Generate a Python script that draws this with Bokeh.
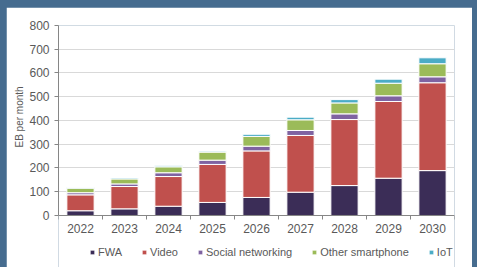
from bokeh.plotting import figure
from bokeh.layouts import column
from bokeh.models import ColumnDataSource, Range1d, FixedTicker, Legend, LegendItem, Title
from bokeh.embed import file_html
from bokeh.resources import INLINE

years = ["2022", "2023", "2024", "2025", "2026", "2027", "2028", "2029", "2030"]
fwa = [20, 28, 39, 55, 76, 98, 126, 157, 189]
video = [67, 94, 125, 160, 196, 239, 278, 323, 370]
social = [9, 11, 16, 18, 20, 21, 24, 24, 25]
other_smartphone = [19, 21, 25, 34, 41, 45, 46, 53, 55]
iot = [3, 4, 4, 4, 9, 11, 14, 17, 25]
series_names = ["FWA", "Video", "Social networking", "Other smartphone", "IoT"]
y_ticks = [0, 100, 200, 300, 400, 500, 600, 700, 800]
y_title = "EB per month"

colors = ["#3b2d57", "#c0504d", "#7f63a1", "#9bbb59", "#4bacc6"]
FONT = "Liberation Sans"
GREY = "#595959"

xpos = list(range(len(years)))
source = ColumnDataSource(dict(x=xpos, s0=fwa, s1=video, s2=social, s3=other_smartphone, s4=iot))

# frame extends below zero to host the x labels and the legend
p = figure(width=466, height=260, x_range=Range1d(-0.5, len(years) - 0.5),
           y_range=Range1d(-219, 800), output_backend="svg", toolbar_location=None,
           min_border_left=52, min_border_right=18, min_border_top=18, min_border_bottom=0)
p.outline_line_color = None
p.background_fill_color = "white"
p.border_fill_color = "white"

rs = p.vbar_stack(["s0", "s1", "s2", "s3", "s4"], x="x", width=0.62, color=colors,
                  line_color="white", line_width=1, source=source)

p.xgrid.grid_line_color = None
p.ygrid.grid_line_color = "#d9d9d9"
p.ygrid.grid_line_width = 1

p.yaxis.ticker = FixedTicker(ticks=y_ticks)
p.yaxis.bounds = (0, 800)
p.yaxis.minor_tick_line_color = None
p.yaxis.major_tick_out = 4
p.yaxis.major_tick_in = 0
p.yaxis.axis_line_color = "#868686"
p.yaxis.major_tick_line_color = "#868686"
p.yaxis.major_label_text_font = FONT
p.yaxis.major_label_text_font_size = "12px"
p.yaxis.major_label_text_color = GREY
p.yaxis.major_label_standoff = 5

ytitle = Title(text=y_title, align="left", offset=120, standoff=3,
               text_font=FONT, text_font_size="10px", text_font_style="normal",
               text_color=GREY)
p.add_layout(ytitle, "left")

p.xaxis.fixed_location = 0
p.xaxis.ticker = FixedTicker(ticks=xpos, minor_ticks=[i - 0.5 for i in range(len(years) + 1)])
p.xaxis.major_label_overrides = {i: y for i, y in enumerate(years)}
p.xaxis.major_tick_out = 0
p.xaxis.major_tick_in = 0
p.xaxis.minor_tick_out = 4
p.xaxis.minor_tick_in = 0
p.xaxis.axis_line_color = "#868686"
p.xaxis.minor_tick_line_color = "#868686"
p.xaxis.major_label_text_font = FONT
p.xaxis.major_label_text_font_size = "12px"
p.xaxis.major_label_text_color = GREY
p.xaxis.major_label_standoff = 5

legend = Legend(items=[LegendItem(label=n, renderers=[r]) for n, r in zip(series_names, rs)],
                orientation="horizontal", location=(31, 8))
legend.label_text_font = FONT
legend.label_text_font_size = "11px"
legend.label_text_color = GREY
legend.glyph_width = 6
legend.glyph_height = 6
legend.label_standoff = 3
legend.spacing = 19
legend.padding = 6
legend.margin = 0
legend.label_height = 14
legend.border_line_color = None
legend.background_fill_alpha = 0
p.add_layout(legend, "center")

root = column(p, spacing=0,
              styles={"background-color": "#466c8f", "padding": "7px 5px 0px 6px"})

html = file_html(root, INLINE)
open("out.html", "w").write(html)
